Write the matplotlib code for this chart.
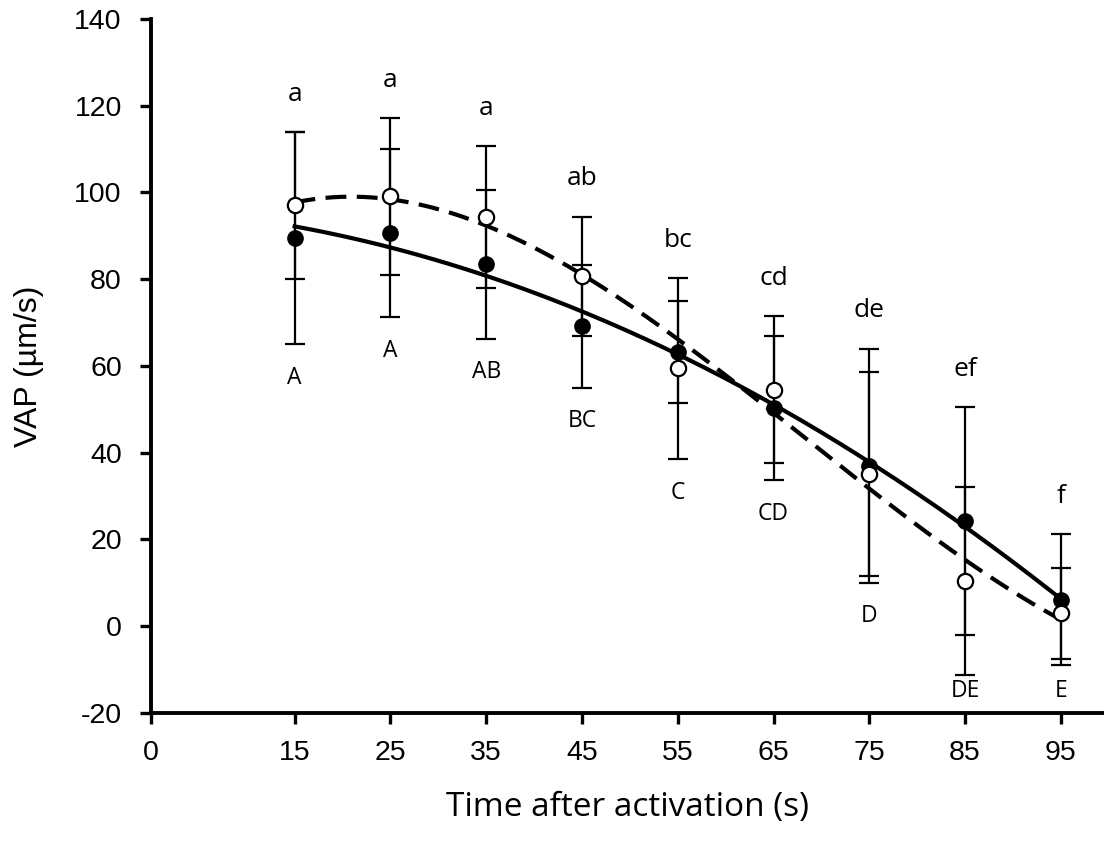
import matplotlib.pyplot as plt
import numpy as np

plt.rcParams["axes.unicode_minus"] = False

# tiempos y medias
tiempo = [15, 25, 35, 45, 55, 65, 75, 85, 95]
vap_lleno = [89.5, 90.6, 83.4, 69.1, 63.2, 50.3, 37.0, 24.2, 6.1]
err_lleno = [24.5, 19.4, 17.1, 14.1, 11.8, 16.7, 27.0, 26.3, 15.1]
vap_vacio = [97.0, 99.1, 94.3, 80.7, 59.4, 54.5, 35.0, 10.3, 2.9]
err_vacio = [17.0, 18.1, 16.4, 13.7, 20.9, 17.0, 23.5, 21.7, 10.5]
letras_sup = ["a", "a", "a", "ab", "bc", "cd", "de", "ef", "f"]
letras_inf = ["A", "A", "AB", "BC", "C", "CD", "D", "DE", "E"]

t = np.array(tiempo)
y1 = np.array(vap_lleno)
e1 = np.array(err_lleno)
y2 = np.array(vap_vacio)
e2 = np.array(err_vacio)

fig = plt.figure(figsize=(11.04, 8.46), dpi=100)
ax = fig.add_axes([151/1104, (846-712.7)/846, (1104-151)/1104, (712.7-19)/846])

ax.errorbar(t, y1, yerr=e1, fmt="none", ecolor="black", elinewidth=1.6,
            capsize=7, capthick=1.6, zorder=2)
ax.errorbar(t, y2, yerr=e2, fmt="none", ecolor="black", elinewidth=1.6,
            capsize=7, capthick=1.6, zorder=2)

# curvas de ajuste
xs = np.linspace(15, 95, 200)
c1 = np.polyfit(t, y1, 2)
c2 = np.polyfit(t, y2, 3)
ax.plot(xs, np.polyval(c1, xs), color="black", lw=3, zorder=3)
ax.plot(xs, np.polyval(c2, xs), color="black", lw=3, dashes=(5, 2.5), zorder=3)

ax.plot(t, y1, "o", color="black", ms=11, zorder=4)
ax.plot(t, y2, "o", mfc="white", mec="black", mew=1.6, ms=11, zorder=4)

fuente = "Open Sans"
tops = np.maximum(y1 + e1, y2 + e2)
bots = np.minimum(y1 - e1, y2 - e2)
for i in range(len(t)):
    ax.text(t[i], tops[i] + 8.7, letras_sup[i], ha="center", va="center",
            fontsize=19, family=fuente)
    yb = max(bots[i] - 7.8, -14.9)
    ax.text(t[i], yb, letras_inf[i], ha="center", va="center",
            fontsize=16.5, family=fuente)

ax.set_xlim(0, 99.5)
ax.set_ylim(-20, 140)
ax.set_xticks([0, 15, 25, 35, 45, 55, 65, 75, 85, 95])
ax.set_yticks(range(-20, 141, 20))
for s in ["top", "right"]:
    ax.spines[s].set_visible(False)
for s in ["left", "bottom"]:
    ax.spines[s].set_linewidth(2.8)
ax.tick_params(width=2.4, length=8, labelsize=20.5)
ax.tick_params(axis="y", pad=13)
ax.tick_params(axis="x", pad=12)
for lab in ax.get_xticklabels() + ax.get_yticklabels():
    lab.set_family("Liberation Sans")

ax.set_ylabel("VAP (\u00b5m/s)", fontsize=23, family="Liberation Sans", labelpad=22)
ax.set_xlabel("Time after activation (s)", fontsize=24, family=fuente, labelpad=18)

plt.savefig("out.png", dpi=100)
